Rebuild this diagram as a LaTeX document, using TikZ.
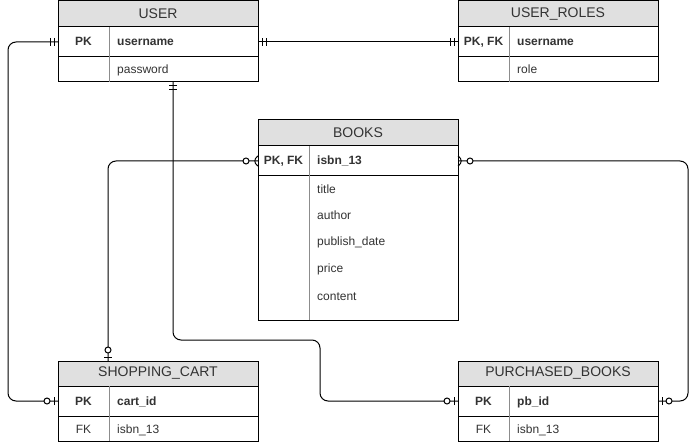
\documentclass[tikz,border=0pt]{standalone}
\usepackage{fontspec}
\setmainfont{Liberation Sans}
\usetikzlibrary{decorations.markings,calc}
\definecolor{hdrfill}{HTML}{E0E0E0}
\definecolor{txt}{HTML}{333333}
\definecolor{coldiv}{HTML}{8C8C8C}
\tikzset{
  box/.style={draw, line width=1pt, minimum width=200pt, inner sep=0pt, outer sep=0pt},
  hdr/.style={box, fill=hdrfill, minimum height=26pt, font=\fontsize{14}{16}\selectfont, text=txt},
  rowbox/.style={box, fill=white},
  coldivline/.style={draw=coldiv, line width=1pt},
  keytxt/.style={font=\fontsize{12}{14}\selectfont\bfseries, text=txt, inner sep=0pt, text height=10pt, text depth=2pt},
  fieldtxt/.style={font=\fontsize{12}{14}\selectfont, text=txt, inner sep=0pt, text height=10pt, text depth=2pt, anchor=west},
  fieldkey/.style={fieldtxt, font=\fontsize{12}{14}\selectfont\bfseries},
  plaintxt/.style={font=\fontsize{12}{14}\selectfont, text=txt, inner sep=0pt, text height=10pt, text depth=2pt},
  conn/.style={draw, line width=1pt, rounded corners=8pt},
  mandone start/.style={postaction={decorate, decoration={markings, mark=at position 0 with {\draw[line width=1pt] (4pt,-4pt)--(4pt,4pt) (8pt,-4pt)--(8pt,4pt);}}}},
  mandone end/.style={postaction={decorate, decoration={markings, mark=at position 1 with {\draw[line width=1pt] (-4pt,-4pt)--(-4pt,4pt) (-8pt,-4pt)--(-8pt,4pt);}}}},
  zeroone end/.style={postaction={decorate, decoration={markings, mark=at position 1 with {\draw[line width=1pt] (-4pt,-4pt)--(-4pt,4pt); \draw[line width=1pt, fill=white] (-11pt,0pt) circle[radius=3pt];}}}},
  zeromany start/.style={postaction={decorate, decoration={markings, mark=at position 0 with {\draw[line width=1pt] (0pt,-5pt)--(7pt,0pt)--(0pt,5pt); \draw[line width=1pt, fill=white] (12pt,0pt) circle[radius=3pt];}}}},
}
\begin{document}
\begin{tikzpicture}[x=1pt, y=-1pt]
\useasboundingbox (0,0) rectangle (698,446);

% USER
\node[hdr, minimum height=26pt] (userh) at (158,14) {USER};
\node[rowbox, minimum height=30pt] (user1) at (158,42) {};
\node[rowbox, minimum height=25pt] (user2) at (158,69.5) {};
\draw[coldivline] (109,27) -- (109,82);
\node[keytxt] (userpk) at (83.5,42) {PK};
\node[fieldkey] (useruname) at (117,42) {username};
\node[fieldtxt] (userpw) at (117,70) {password};

% USER_ROLES
\node[hdr, minimum height=26pt] (rolesh) at (558,14) {USER\_ROLES};
\node[rowbox, minimum height=30pt] (roles1) at (558,42) {};
\node[rowbox, minimum height=25pt] (roles2) at (558,69.5) {};
\draw[coldivline] (509,27) -- (509,82);
\node[keytxt] (rolespk) at (483.5,42) {PK, FK};
\node[fieldkey] (rolesuname) at (517,42) {username};
\node[fieldtxt] (rolesrole) at (517,70) {role};

% BOOKS
\node[hdr, minimum height=26pt] (booksh) at (358,133) {BOOKS};
\node[rowbox, minimum height=30pt] (books1) at (358,161) {};
\node[rowbox, minimum height=144pt] (books2) at (358,248) {};
\draw[coldivline] (309,146) -- (309,320);
\node[keytxt] (bookspk) at (283.5,161) {PK, FK};
\node[fieldkey] (booksisbn) at (317,161) {isbn\_13};
\node[fieldtxt] (bookstitle) at (317,190) {title};
\node[fieldtxt] (booksauthor) at (317,216) {author};
\node[fieldtxt] (booksdate) at (317,242) {publish\_date};
\node[fieldtxt] (booksprice) at (317,268) {price};
\node[fieldtxt] (bookscontent) at (317,296) {content};

% SHOPPING_CART
\node[hdr, minimum height=25pt] (carth) at (158,373.5) {SHOPPING\_CART};
\node[rowbox, minimum height=30pt] (cart1) at (158,401) {};
\node[rowbox, minimum height=25pt] (cart2) at (158,428.5) {};
\draw[coldivline] (109,386) -- (109,441);
\node[keytxt] (cartpk) at (83.5,401) {PK};
\node[fieldkey] (cartid) at (117,401) {cart\_id};
\node[plaintxt] (cartfk) at (83.5,429) {FK};
\node[fieldtxt] (cartisbn) at (117,429) {isbn\_13};

% PURCHASED_BOOKS
\node[hdr, minimum height=25pt] (pbh) at (558,373.5) {PURCHASED\_BOOKS};
\node[rowbox, minimum height=30pt] (pb1) at (558,401) {};
\node[rowbox, minimum height=25pt] (pb2) at (558,428.5) {};
\draw[coldivline] (509,386) -- (509,441);
\node[keytxt] (pbpk) at (483.5,401) {PK};
\node[fieldkey] (pbid) at (517,401) {pb\_id};
\node[plaintxt] (pbfk) at (483.5,429) {FK};
\node[fieldtxt] (pbisbn) at (517,429) {isbn\_13};

% bend coordinates
\coordinate (leftrail) at (8,42);
\coordinate (midbend) at (320,340);
\coordinate (rightrail) at (688,401);

% connectors
\draw[conn, mandone start, zeroone end] (user1.west) -- (leftrail) |- (cart1.west);
\draw[conn, mandone start, mandone end] (user1.east) -- (roles1.west);
\draw[conn, mandone start, zeroone end] ([xshift=15pt]user2.south) |- (midbend) |- (pb1.west);
\draw[conn, zeromany start, zeroone end] (books1.west) -| ([xshift=-50pt]carth.north);
\draw[conn, zeromany start, zeroone end] (books1.east) -| (rightrail) -- (pb1.east);
\end{tikzpicture}
\end{document}
